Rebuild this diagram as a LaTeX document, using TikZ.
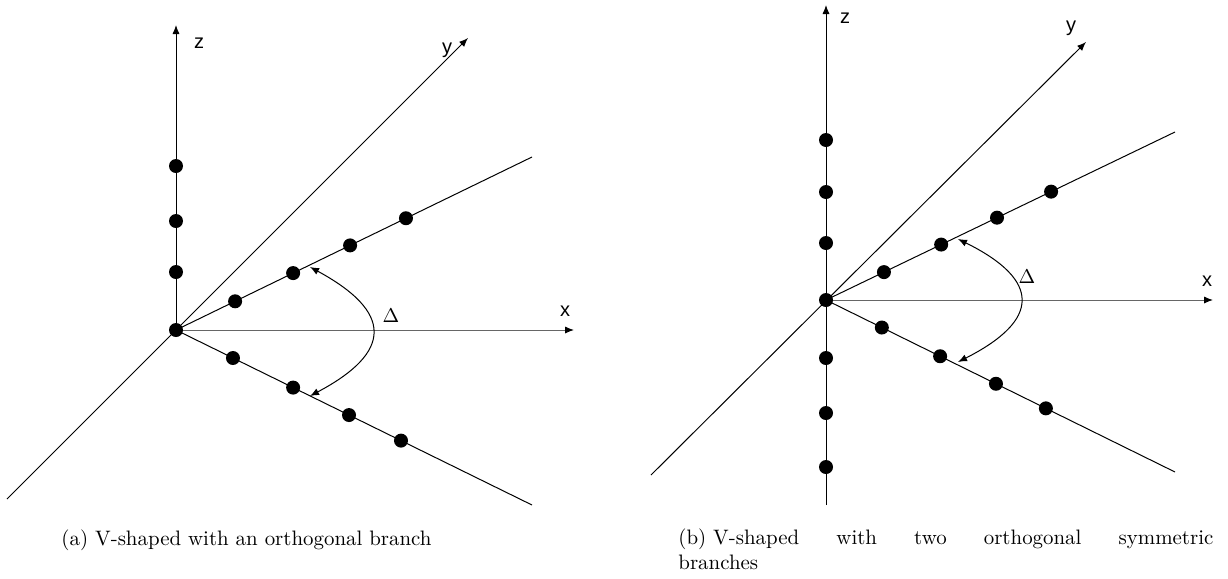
\documentclass[tikz,border=0pt]{standalone}
\usepackage{fontspec}
\newfontfamily\axfont{Liberation Sans}
\usetikzlibrary{arrows.meta,calc}
\begin{document}
\begin{tikzpicture}[x=0.5pt,y=-0.5pt,
  axline/.style={line width=0.5pt,-{Latex[length=4.5pt,width=3.6pt,color=black]}},
  xaxline/.style={axline,draw=black!60},
  branchline/.style={line width=0.5pt},
  dotnode/.style={circle,fill=black,inner sep=0pt,minimum size=7pt},
  axlabel/.style={font=\axfont\fontsize{10}{12}\selectfont,inner sep=0pt},
  deltaarc/.style={line width=0.5pt,{Latex[length=4.5pt,width=3.6pt]}-{Latex[length=4.5pt,width=3.6pt]}},
  captext/.style={font=\fontsize{10.45}{12.5}\selectfont,inner sep=0pt}]
\useasboundingbox (0,0) rectangle (1228,579);
% ---------- panel (a) ----------
\coordinate (Oa) at (176,330);
\coordinate (za) at (176,25);
\coordinate (ya0) at (7,499);
\coordinate (ya) at (468,38);
\coordinate (xa) at (574,330);
\coordinate (ua) at (532,157);
\coordinate (la) at (532,505);
\draw[axline] (Oa) -- (za);
\draw[axline] (ya0) -- (ya);
\draw[xaxline] (Oa) -- (xa);
\draw[branchline] (Oa) -- (ua);
\draw[branchline] (Oa) -- (la);
\node[dotnode] (a0) at (Oa) {};
\node[dotnode] (az1) at (176,272) {};
\node[dotnode] (az2) at (176,221) {};
\node[dotnode] (az3) at (176,166) {};
\foreach \i/\f in {1/0.166,2/0.329,3/0.489,4/0.646}{
  \node[dotnode] (au\i) at ($(Oa)!\f!(ua)$) {};
}
\foreach \i/\f in {1/0.16,2/0.329,3/0.486,4/0.632}{
  \node[dotnode] (al\i) at ($(Oa)!\f!(la)$) {};
}
\coordinate (aa1) at (310,267);
\coordinate (aa2) at (310,396);
\draw[deltaarc] (aa1) .. controls (393,312) and (393,352) .. (aa2);
\node[axlabel] (lza) at (199,43) {z};
\node[axlabel] (lya) at (447,50) {y};
\node[axlabel] (lxa) at (565,311) {x};
\node[inner sep=0pt,font=\fontsize{10.45}{12}\selectfont] (lda) at (391,316) {$\Delta$};
\node[captext] (capa) at (246.5,540) {(a) V-shaped with an orthogonal branch};
% ---------- panel (b) ----------
\coordinate (Ob) at (826,300);
\coordinate (zb0) at (826,505);
\coordinate (zb) at (826,5);
\coordinate (yb0) at (651,475);
\coordinate (yb) at (1086,42);
\coordinate (xb) at (1213,300);
\coordinate (ub) at (1175,132);
\coordinate (lb) at (1175,472);
\draw[axline] (zb0) -- (zb);
\draw[axline] (yb0) -- (yb);
\draw[xaxline] (Ob) -- (xb);
\draw[branchline] (Ob) -- (ub);
\draw[branchline] (Ob) -- (lb);
\node[dotnode] (b0) at (Ob) {};
\foreach \i/\y in {1/243,2/192,3/140}{
  \node[dotnode] (bzu\i) at (826,\y) {};
}
\foreach \i/\y in {1/358,2/413,3/467}{
  \node[dotnode] (bzl\i) at (826,\y) {};
}
\foreach \i/\f in {1/0.166,2/0.33,3/0.49,4/0.645}{
  \node[dotnode] (bu\i) at ($(Ob)!\f!(ub)$) {};
}
\foreach \i/\f in {1/0.16,2/0.327,3/0.487,4/0.63}{
  \node[dotnode] (bl\i) at ($(Ob)!\f!(lb)$) {};
}
\coordinate (ba1) at (958,239);
\coordinate (ba2) at (958,362);
\draw[deltaarc] (ba1) .. controls (1041,280) and (1041,320) .. (ba2);
\node[axlabel] (lzb) at (845,18) {z};
\node[axlabel] (lyb) at (1071,28) {y};
\node[axlabel] (lxb) at (1207,281) {x};
\node[inner sep=0pt,font=\fontsize{10.45}{12}\selectfont] (ldb) at (1027,277) {$\Delta$};
\node[captext,anchor=north west,text width=267.5pt,align=left] (capb) at (678,528)
  {\hbox to 267.5pt{(b)\ V-shaped\hfill with\hfill two\hfill orthogonal\hfill symmetric}\\branches};
\end{tikzpicture}
\end{document}
